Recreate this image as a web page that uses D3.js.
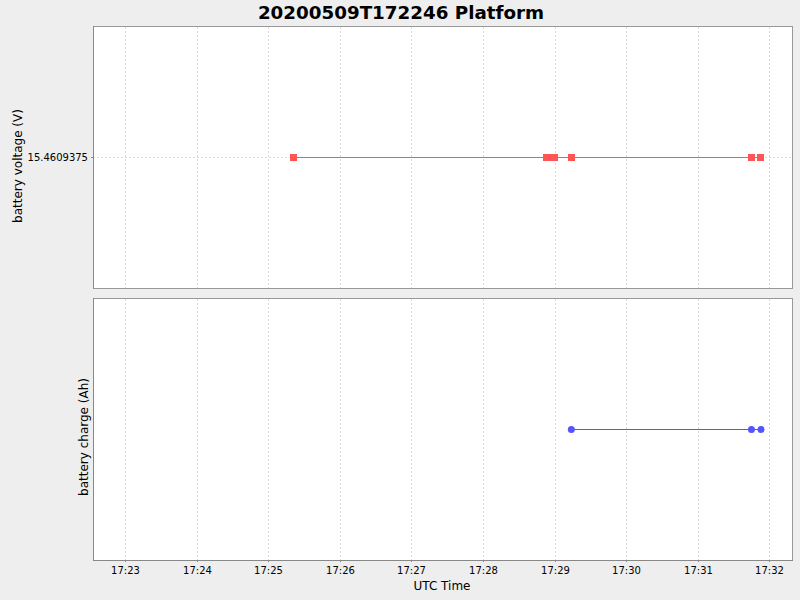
<!DOCTYPE html>
<html><head><meta charset="utf-8">
<script src="https://cdn.jsdelivr.net/npm/d3@7"></script>
<style>
body{margin:0;background:#eeeeee;}
svg{display:block;font-family:"DejaVu Sans",sans-serif;}
</style></head>
<body><svg id="c" width="800" height="600"></svg>
<script>
const title = "20200509T172246 Platform";
const voltageTimes = ["17:25:21","17:28:53.6","17:28:57","17:29:00","17:29:14","17:31:45","17:31:53"];
const voltageValues = [15.4609375,15.4609375,15.4609375,15.4609375,15.4609375,15.4609375,15.4609375];
const chargeTimes = ["17:29:14","17:31:45","17:31:53"];
const chargeValues = [0,0,0];
const xTickLabels = ["17:23","17:24","17:25","17:26","17:27","17:28","17:29","17:30","17:31","17:32"];
const xDomain = ["17:22:33.6","17:32:19.3"];
const voltageTickLabels = ["15.4609375"];

const parse = s => { const [h,m,sec] = s.split(":").map(Number); return new Date(Date.UTC(2020,4,9,h,m,sec)); };
const svg = d3.select("#c");
const L = 93, R = 792;
const x = d3.scaleUtc().domain(xDomain.map(parse)).range([L, R]);
const xTicks = xTickLabels.map(t => parse(t + ":00"));

svg.append("text").attr("x",401).attr("y",19).attr("text-anchor","middle")
  .attr("font-size",18.3).attr("font-weight","bold").text(title);

function panel(top, bottom, times, values, color, shape, label, tickLabels, labelX, labelY){
  const v0 = values[0];
  const y = d3.scaleLinear().domain([v0-1, v0+1]).range([bottom, top]);
  const g = svg.append("g");
  g.append("rect").attr("x",L+0.5).attr("y",top+0.5).attr("width",R-L).attr("height",bottom-top)
    .attr("fill","#fff").attr("stroke","#999").attr("stroke-width",1);
  g.selectAll(".vg").data(xTicks).join("line")
    .attr("x1",d=>Math.round(x(d))+0.5).attr("x2",d=>Math.round(x(d))+0.5).attr("y1",top+1).attr("y2",bottom)
    .attr("stroke","#d8d8d8").attr("stroke-dasharray","2,2");
  tickLabels.forEach(t => {
    const yy = Math.round(y(+t))+0.5;
    g.append("line").attr("x1",L).attr("x2",R).attr("y1",yy).attr("y2",yy)
      .attr("stroke","#d8d8d8").attr("stroke-dasharray","2,2");
    g.append("line").attr("x1",L-2).attr("x2",L).attr("y1",yy).attr("y2",yy).attr("stroke","#888");
    g.append("text").attr("x",L-5).attr("y",yy).attr("dy","0.35em").attr("text-anchor","end")
      .attr("font-size",10).text(t);
  });
  g.append("line").attr("x1",L+0.5).attr("x2",L+0.5).attr("y1",top).attr("y2",bottom+1).attr("stroke","#888");
  const pts = times.map((t,i)=>[x(parse(t)), Math.round(y(values[i]))+0.5]);
  g.append("path").attr("d", d3.line()(pts)).attr("fill","none").attr("stroke",color).attr("stroke-width",1);
  if(shape==="square"){
    g.selectAll(".p").data(pts).join("rect").attr("x",d=>Math.round(d[0]-3.5)).attr("y",d=>d[1]-3.5)
      .attr("width",7).attr("height",7).attr("fill",color);
  } else {
    g.selectAll(".p").data(pts).join("circle").attr("cx",d=>d[0]).attr("cy",d=>d[1]).attr("r",3.5).attr("fill",color);
  }
  g.append("text").attr("transform",`translate(${labelX},${labelY}) rotate(-90)`).attr("text-anchor","middle")
    .attr("font-size",12).text(label);
}

panel(26, 288, voltageTimes, voltageValues, "#ff5555", "square", "battery voltage (V)", voltageTickLabels, 22, 166);
panel(298, 560, chargeTimes, chargeValues, "#5555ff", "circle", "battery charge (Ah)", [], 88, 437);

// x axis
const ax = svg.append("g").attr("transform","translate(0,560)");
ax.append("line").attr("x1",L).attr("x2",R+1).attr("y1",0.5).attr("y2",0.5).attr("stroke","#888");
xTicks.forEach((d,i)=>{
  const xx = Math.round(x(d))+0.5;
  ax.append("line").attr("x1",xx).attr("x2",xx).attr("y1",0).attr("y2",2).attr("stroke","#888");
  ax.append("text").attr("x",xx).attr("y",14).attr("text-anchor","middle").attr("font-size",10).text(xTickLabels[i]);
});
svg.append("text").attr("x",442).attr("y",590).attr("text-anchor","middle").attr("font-size",12).text("UTC Time");
</script></body></html>
